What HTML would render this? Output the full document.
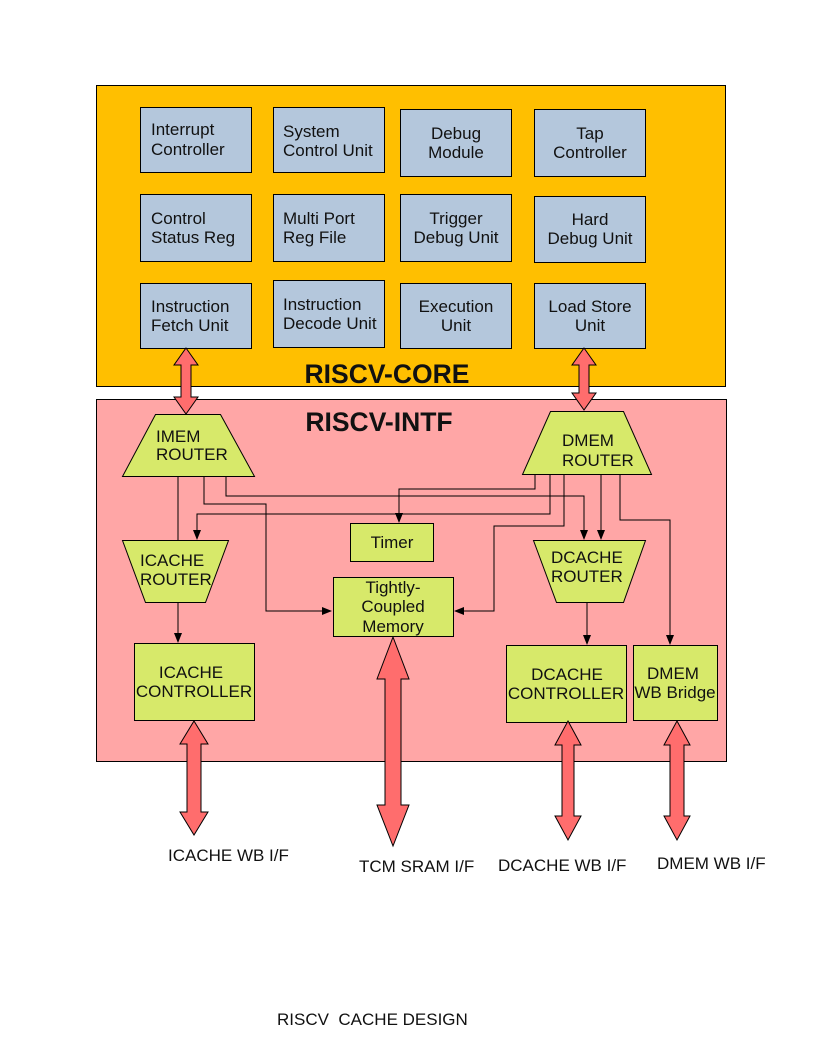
<!DOCTYPE html>
<html><head><meta charset="utf-8"><style>
html,body{margin:0;padding:0;background:#fff;}
svg{display:block;}
text{font-family:"Liberation Sans",sans-serif;font-size:17px;fill:#111;}
</style></head><body>
<svg width="816" height="1056" viewBox="0 0 816 1056" xmlns="http://www.w3.org/2000/svg">
<defs>
<marker id="ah" markerWidth="10" markerHeight="10" refX="9" refY="5" orient="auto" markerUnits="userSpaceOnUse">
<path d="M0,1 L10,5 L0,9 z" fill="#000"/></marker>
</defs>
<rect x="96.5" y="85.5" width="629" height="301" fill="#ffbf00" stroke="#000"/>
<rect x="96.5" y="399.5" width="630" height="362" fill="#ffa6a6" stroke="#000"/>
<g fill="#b4c7dc" stroke="#000">
<rect x="140.5" y="107.5" width="111" height="65"/>
<rect x="273.5" y="107.5" width="111" height="65"/>
<rect x="400.5" y="109.5" width="111" height="67"/>
<rect x="534.5" y="109.5" width="111" height="67"/>
<rect x="140.5" y="194.5" width="111" height="67"/>
<rect x="273.5" y="194.5" width="111" height="67"/>
<rect x="400.5" y="194.5" width="111" height="67"/>
<rect x="534.5" y="196.5" width="111" height="66"/>
<rect x="140.5" y="283.5" width="111" height="65"/>
<rect x="273.5" y="280.5" width="111" height="67"/>
<rect x="400.5" y="283.5" width="111" height="65"/>
<rect x="534.5" y="283.5" width="111" height="65"/>
</g>
<text x="151" y="135">Interrupt</text><text x="151" y="155">Controller</text>
<text x="283" y="137">System</text><text x="283" y="156">Control Unit</text>
<text x="456" y="139" text-anchor="middle">Debug</text><text x="456" y="158" text-anchor="middle">Module</text>
<text x="590" y="139" text-anchor="middle">Tap</text><text x="590" y="158" text-anchor="middle">Controller</text>
<text x="151" y="224">Control</text><text x="151" y="243">Status Reg</text>
<text x="283" y="224">Multi Port</text><text x="283" y="243">Reg File</text>
<text x="456" y="224" text-anchor="middle">Trigger</text><text x="456" y="243" text-anchor="middle">Debug Unit</text>
<text x="590" y="225" text-anchor="middle">Hard</text><text x="590" y="244" text-anchor="middle">Debug Unit</text>
<text x="151" y="312">Instruction</text><text x="151" y="331">Fetch Unit</text>
<text x="283" y="310">Instruction</text><text x="283" y="329">Decode Unit</text>
<text x="456" y="312" text-anchor="middle">Execution</text><text x="456" y="331" text-anchor="middle">Unit</text>
<text x="590" y="312" text-anchor="middle">Load Store</text><text x="590" y="331" text-anchor="middle">Unit</text>
<text x="387" y="383" text-anchor="middle" style="font-size:26.5px;font-weight:bold">RISCV-CORE</text>
<text x="379" y="431" text-anchor="middle" style="font-size:26.5px;font-weight:bold">RISCV-INTF</text>
<g fill="none" stroke="#000" stroke-width="1">
<path d="M178,476 V540"/>
<path d="M204,476 V504 H266 V611 H331" marker-end="url(#ah)"/>
<path d="M226,476 V496 H584 V539" marker-end="url(#ah)"/>
<path d="M535,474 V489 H399 V522" marker-end="url(#ah)"/>
<path d="M550,474 V514 H197 V539" marker-end="url(#ah)"/>
<path d="M564,474 V526 H494 V611 H455" marker-end="url(#ah)"/>
<path d="M601,474 V539" marker-end="url(#ah)"/>
<path d="M620,474 V520 H670 V644" marker-end="url(#ah)"/>
<path d="M178,603 V642" marker-end="url(#ah)"/>
<path d="M587,603 V644" marker-end="url(#ah)"/>
</g>
<g fill="#d7e96a" stroke="#000">
<polygon points="155.5,414.5 220.5,414.5 254.5,476.5 122.5,476.5"/>
<polygon points="550.5,411.5 623.5,411.5 651.5,474.5 522.5,474.5"/>
<polygon points="122.5,540.5 228.5,540.5 205.5,602.5 145.5,602.5"/>
<polygon points="533.5,540.5 645.5,540.5 623.5,602.5 556.5,602.5"/>
<rect x="350.5" y="523.5" width="83" height="38"/>
<rect x="333.5" y="577.5" width="120" height="59"/>
<rect x="134.5" y="643.5" width="120" height="77"/>
<rect x="506.5" y="645.5" width="120" height="77"/>
<rect x="633.5" y="645.5" width="84" height="75"/>
</g>
<text x="156" y="442">IMEM</text><text x="156" y="460">ROUTER</text>
<text x="562" y="446">DMEM</text><text x="562" y="466">ROUTER</text>
<text x="140" y="566">ICACHE</text><text x="140" y="585">ROUTER</text>
<text x="551" y="563">DCACHE</text><text x="551" y="582">ROUTER</text>
<text x="392" y="548" text-anchor="middle">Timer</text>
<text x="393" y="593" text-anchor="middle">Tightly-</text><text x="393" y="612" text-anchor="middle">Coupled</text><text x="393" y="632" text-anchor="middle">Memory</text>
<text x="191" y="678" text-anchor="middle">ICACHE</text><text x="194" y="697" text-anchor="middle">CONTROLLER</text>
<text x="567" y="680" text-anchor="middle">DCACHE</text><text x="566" y="699" text-anchor="middle">CONTROLLER</text>
<text x="673" y="679" text-anchor="middle">DMEM</text><text x="675" y="698" text-anchor="middle">WB Bridge</text>
<g fill="#ff6d6d" stroke="#000">
<path d="M186,348 L198,365 H191 V397 H198 L186,414 L174,397 H181 V365 H174 Z"/>
<path d="M584,348 L596,365 H589 V393 H596 L584,410 L572,393 H579 V365 H572 Z"/>
<path d="M194,721 L208,744 H201 V812 H208 L194,835 L180,812 H187 V744 H180 Z"/>
<path d="M393,637 L409,679 H401 V805 H409 L393,846 L377,805 H385 V679 H377 Z"/>
<path d="M568,721 L581,745 H574 V816 H581 L568,840 L555,816 H562 V745 H555 Z"/>
<path d="M677,721 L690,745 H684 V816 H690 L677,840 L664,816 H670 V745 H664 Z"/>
</g>
<text x="168" y="861">ICACHE WB I/F</text>
<text x="359" y="872">TCM SRAM I/F</text>
<text x="498" y="871">DCACHE WB I/F</text>
<text x="657" y="869">DMEM WB I/F</text>
<text x="277" y="1025">RISCV&#160; CACHE DESIGN</text>
</svg>
</body></html>
